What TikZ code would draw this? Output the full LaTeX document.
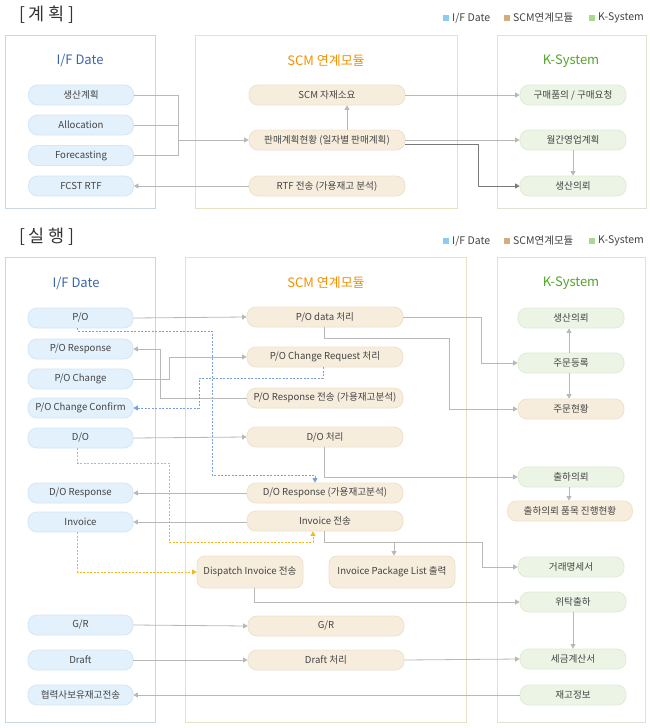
\documentclass[tikz,border=0pt]{standalone}
\usepackage{fontspec}
\setmainfont{Noto Sans CJK KR}
\usetikzlibrary{arrows.meta}
\definecolor{txt}{HTML}{444444}
\definecolor{iffill}{HTML}{E2F1FC}
\definecolor{ifdraw}{HTML}{D3E7F6}
\definecolor{scmfill}{HTML}{F6EDDD}
\definecolor{scmdraw}{HTML}{EEE2CB}
\definecolor{kfill}{HTML}{ECF5E5}
\definecolor{kdraw}{HTML}{DEEDD3}
\definecolor{ifpanel}{HTML}{CAD7E3}
\definecolor{scmpanel}{HTML}{E7E1C3}
\definecolor{kpanel}{HTML}{DDE3D4}
\definecolor{iftitle}{HTML}{3A66B0}
\definecolor{scmtitle}{HTML}{F39200}
\definecolor{ktitle}{HTML}{55A528}
\definecolor{lgif}{HTML}{8CCBF3}
\definecolor{lgscm}{HTML}{D4AE7A}
\definecolor{lgk}{HTML}{A9D98C}
\definecolor{gline}{HTML}{B8B8B8}
\definecolor{dline}{HTML}{7A7A7A}
\definecolor{bline}{HTML}{7C9FDB}
\definecolor{yline}{HTML}{F4B71E}
\tikzset{
  bx/.style={rounded corners=9pt, minimum height=20pt, inner sep=0pt, text=txt,
    font=\fontsize{9.6}{10}\selectfont, line width=0.8pt},
  ifbox/.style={bx, fill=iffill, draw=ifdraw, minimum width=105pt},
  scmbox/.style={bx, fill=scmfill, draw=scmdraw, minimum width=156pt},
  scmsmall/.style={bx, fill=scmfill, draw=scmdraw, minimum height=32pt, rounded corners=8pt},
  kbox/.style={bx, fill=kfill, draw=kdraw, minimum width=106pt},
  kbeige/.style={bx, fill=scmfill, draw=scmdraw, minimum width=106pt},
  tip/.style={-{Triangle[width=5pt,length=4.5pt]}},
  gl/.style={draw=gline, line width=0.8pt},
  ga/.style={gl, tip},
  da/.style={draw=dline, line width=0.8pt, tip},
  bd/.style={draw=bline, line width=0.8pt, dash pattern=on 2pt off 1.5pt},
  bda/.style={bd, -{Triangle[width=5pt,length=4.5pt]}},
  yd/.style={draw=yline, line width=0.8pt, dash pattern=on 2pt off 1.5pt},
  yda/.style={yd, -{Triangle[width=5pt,length=4.5pt]}},
  ptitle/.style={font=\fontsize{13}{14}\selectfont, inner sep=0pt},
  sectitle/.style={font=\fontsize{17.5}{19}\selectfont, text=black!80, inner sep=0pt},
  lgtxt/.style={font=\fontsize{10.5}{11}\selectfont, text=txt, inner sep=0pt, anchor=west},
  lgsq/.style={minimum size=6pt, inner sep=0pt},
}
\begin{document}
\begin{tikzpicture}[x=1pt,y=-1pt]
\useasboundingbox (0,0) rectangle (650,728);
\fill[white] (0,0) rectangle (650,728);

% ===== Section titles and legends =====
\node[sectitle] (t1) at (47,15) {[ 계 획 ]};
\node[sectitle] (t2) at (47,237) {[ 실 행 ]};
\foreach \yy/\nm in {18/a,241/b}{
  \node[lgsq, fill=lgif] (lq1\nm) at (445.5,\yy) {};
  \node[lgtxt] (lt1\nm) at (452,\yy) {I/F Date};
  \node[lgsq, fill=lgscm] (lq2\nm) at (506.5,\yy) {};
  \node[lgtxt] (lt2\nm) at (513,\yy) {SCM연계모듈};
  \node[lgsq, fill=lgk] (lq3\nm) at (591.5,\yy) {};
  \node[lgtxt] (lt3\nm) at (598,\yy) {K-System};
}

% ===== Top panels =====
\draw[ifpanel, line width=0.8pt] (5,35) rectangle (155,208);
\draw[scmpanel, line width=0.8pt] (195,35) rectangle (457,208);
\draw[kpanel, line width=0.8pt] (497,35) rectangle (646,208);
\node[ptitle, text=iftitle] (h1) at (80,61) {I/F Date};
\node[ptitle, text=scmtitle] (h2) at (326,61) {SCM 연계모듈};
\node[ptitle, text=ktitle] (h3) at (571,61) {K-System};

\node[ifbox] (ifA) at (81,95) {생산계획};
\node[ifbox] (ifB) at (81,125) {Allocation};
\node[ifbox] (ifC) at (81,155.5) {Forecasting};
\node[ifbox] (ifD) at (81,186) {FCST RTF};
\node[scmbox] (scmA) at (327,95) {SCM 자재소요};
\node[scmbox] (scmB) at (327,140) {판매계획현황 (일자별 판매계획)};
\node[scmbox] (scmC) at (327,186) {RTF 전송 (가용재고 분석)};
\node[kbox] (kA) at (573,95) {구매품의 / 구매요청};
\node[kbox] (kB) at (573,140) {월간영업계획};
\node[kbox] (kC) at (573,186) {생산의뢰};

\coordinate (jTop) at (178,140);
\coordinate (jDark) at (478,186);
\draw[gl] (ifA.east) -| (jTop);
\draw[gl] (ifC.east) -| (jTop);
\draw[gl] (ifB.east) -- (ifB.east -| jTop);
\draw[ga] (jTop) -- (scmB.west);
\draw[ga] ([xshift=20pt]scmB.north) -- ([xshift=20pt]scmA.south);
\draw[ga] (scmA.east) -- (kA.west);
\draw[ga] (scmB.east) -- (kB.west);
\draw[da] ([yshift=-4pt]scmB.east) -| (jDark) -- (kC.west);
\draw[ga] (kB.south) -- (kC.north);
\draw[ga] (scmC.west) -- (ifD.east);

% ===== Bottom panels =====
\draw[ifpanel, line width=0.8pt] (5,257) rectangle (155,722);
\draw[scmpanel, line width=0.8pt] (185,257) rectangle (466,722);
\draw[kpanel, line width=0.8pt] (497,257) rectangle (645,722);
\node[ptitle, text=iftitle] (h4) at (76,283) {I/F Date};
\node[ptitle, text=scmtitle] (h5) at (326,283) {SCM 연계모듈};
\node[ptitle, text=ktitle] (h6) at (571,283) {K-System};

\node[ifbox] (p1) at (80.5,318) {P/O};
\node[ifbox] (p2) at (80.5,349) {P/O Response};
\node[ifbox] (p3) at (80.5,379) {P/O Change};
\node[ifbox] (p4) at (80.5,408) {P/O Change Confirm};
\node[ifbox] (p5) at (80.5,438) {D/O};
\node[ifbox] (p6) at (80.5,493) {D/O Response};
\node[ifbox] (p7) at (80.5,522) {Invoice};
\node[ifbox] (p8) at (80.5,625) {G/R};
\node[ifbox] (p9) at (80.5,660) {Draft};
\node[ifbox] (p10) at (80.5,695) {협력사보유재고전송};

\node[scmbox] (s1) at (325,317) {P/O data 처리};
\node[scmbox] (s2) at (325,357) {P/O Change Request 처리};
\node[scmbox] (s3) at (325,398) {P/O Response 전송 (가용재고분석)};
\node[scmbox] (s4) at (325,437) {D/O 처리};
\node[scmbox] (s5) at (325,493) {D/O Response (가용재고분석)};
\node[scmbox] (s6) at (325,521) {Invoice 전송};
\node[scmsmall, minimum width=106pt] (s7) at (250,572) {Dispatch Invoice 전송};
\node[scmsmall, minimum width=126pt] (s8) at (392,572) {Invoice Package List 출력};
\node[scmbox] (s9) at (326,626) {G/R};
\node[scmbox] (s10) at (326,660) {Draft 처리};

\node[kbox] (k1) at (571,318) {생산의뢰};
\node[kbox] (k2) at (571,363) {주문등록};
\node[kbeige] (k3) at (571,409) {주문현황};
\node[kbox] (k4) at (571,477) {출하의뢰};
\node[kbeige, minimum width=125pt] (k5) at (570,511) {출하의뢰 품목 진행현황};
\node[kbox] (k6) at (571,567) {거래명세서};
\node[kbox] (k7) at (573,602) {위탁출하};
\node[kbox] (k8) at (573,659) {세금계산서};
\node[kbox] (k9) at (573,695) {재고정보};

\coordinate (bturn) at (212,475);
\coordinate (bturn2) at (199,378);
\coordinate (jC) at (449,338);
\coordinate (yA) at (169,463);
\coordinate (yB) at (169,542);
\coordinate (jI) at (482,542);

\draw[ga] (p1.east) -- (s1.west);
\draw[bda] ([xshift=-3pt]p1.south) -- ++(0,3) -| (bturn) -| ([xshift=-10pt]s5.north);
\draw[ga] (s3.west) -- ++(-86,0) |- (p2.east);
\draw[ga] (p3.east) -- ++(36,0) |- (s2.west);
\draw[bda] ([xshift=-2pt]s2.south) |- (bturn2) |- (p4.east);
\draw[ga] (s1.east) -- ++(78,0) |- (k2.west);
\draw[ga] ([xshift=-1pt]s1.south) |- (jC) |- (k3.west);
\draw[ga] ([xshift=-2pt]k2.north) -- ([xshift=-2pt]k1.south);
\draw[ga] ([xshift=-2pt]k2.south) -- ([xshift=-2pt]k3.north);
\draw[ga] (p5.east) -- (s4.west);
\draw[ga] ([xshift=-1pt]s4.south) |- (k4.west);
\draw[yda] ([xshift=-3pt]p5.south) |- (yA) -- (yB) -| ([xshift=-12pt]s6.south);
\draw[ga] (s5.west) -- (p6.east);
\draw[ga] (s6.west |- p7.east) -- (p7.east);
\draw[yda] ([xshift=-3pt]p7.south) |- (s7.west);
\draw[ga] ([xshift=-1pt]s6.south) |- (jI) |- (k6.west);
\draw[ga] ([xshift=2pt]s8.north |- jI) -- ([xshift=2pt]s8.north);
\draw[ga] ([xshift=-2pt]k4.south) -- ([xshift=-1pt]k5.north);
\draw[ga] ([xshift=4pt]s7.south) |- (k7.west);
\draw[ga] (k7.south) -- (k8.north);
\draw[ga] (p8.east) -- (s9.west);
\draw[ga] (p9.east) -- (s10.west);
\draw[ga] (s10.east) -- (k8.west);
\draw[ga] (k9.west) -- (p10.east);
\end{tikzpicture}
\end{document}
